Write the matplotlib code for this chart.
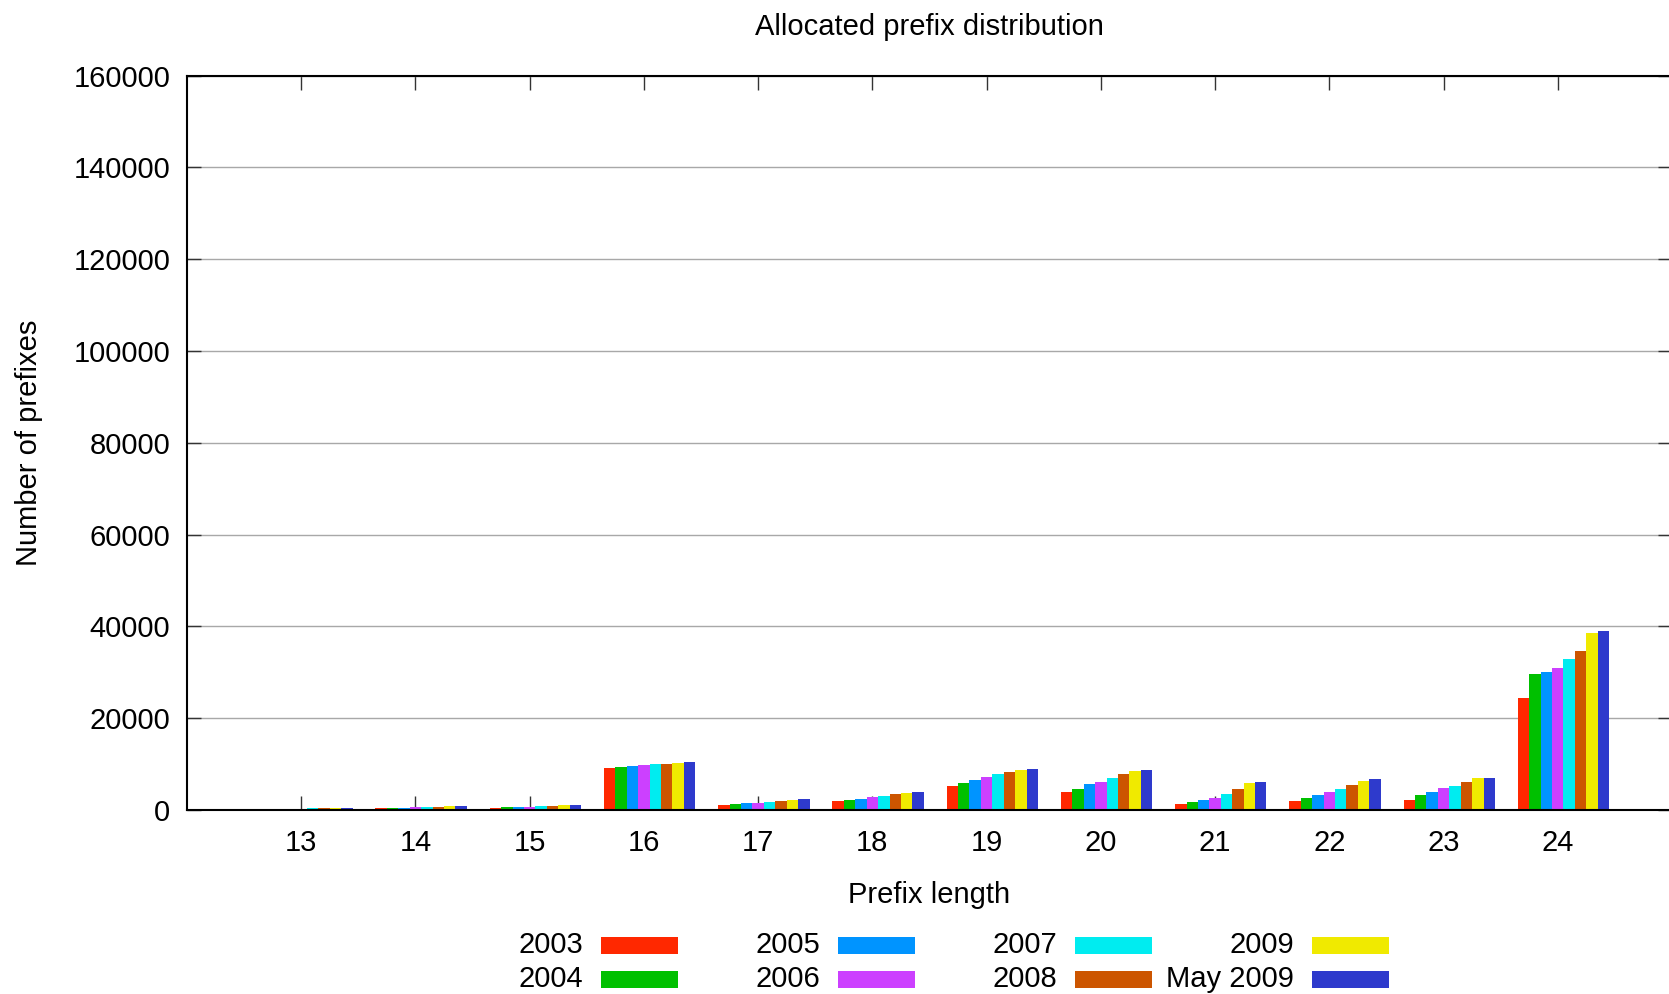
import numpy as np
import matplotlib
matplotlib.use("Agg")
import matplotlib.pyplot as plt
from matplotlib.patches import Rectangle

plt.rcParams['font.family'] = ['Liberation Sans', 'DejaVu Sans']

prefix_len = [13, 14, 15, 16, 17, 18, 19, 20, 21, 22, 23, 24]
years = ['2003', '2004', '2005', '2006', '2007', '2008', '2009', 'May 2009']
colors = ['#ff2800', '#00c000', '#0094ff', '#cc40ff', '#00ecf0', '#cc5500', '#f0ea00', '#2e3acc']

# number of prefixes per prefix length, one list per snapshot
p2003 = [150, 400, 400, 9160, 1090, 1960, 5230, 3930, 1310, 1960, 2180, 24400]
p2004 = [150, 400, 650, 9380, 1310, 2180, 5890, 4580, 1750, 2620, 3270, 29700]
p2005 = [200, 400, 650, 9600, 1530, 2400, 6540, 5670, 2180, 3270, 3930, 30100]
p2006 = [250, 650, 650, 9810, 1530, 2840, 7200, 6110, 2620, 3930, 4800, 31000]
p2007 = [440, 650, 870, 10030, 1750, 3050, 7850, 6980, 3490, 4580, 5230, 32900]
p2008 = [440, 650, 870, 10030, 1960, 3490, 8290, 7850, 4580, 5450, 6110, 34700]
p2009 = [440, 870, 1090, 10250, 2180, 3710, 8720, 8510, 5890, 6330, 6980, 38500]
pmay09 = [440, 870, 1090, 10470, 2400, 3930, 8940, 8720, 6110, 6760, 6980, 39000]
series = [p2003, p2004, p2005, p2006, p2007, p2008, p2009, pmay09]

W, H = 1669, 994
fs = 21
fig = plt.figure(figsize=(W / 100, H / 100), dpi=100)
ax = fig.add_axes([187 / W, 1 - 810 / H, (1672 - 187) / W, (810 - 75.6) / H])

x = np.array(prefix_len)
bw = 0.1
for j, (vals, c) in enumerate(zip(series, colors)):
    ax.bar(x + (j - 3) * bw, vals, width=bw, color=c, linewidth=0, zorder=2)

ax.set_xlim(12, 25)
ax.set_ylim(0, 160000)
ax.set_xticks(prefix_len)
ax.set_yticks(np.arange(0, 160001, 20000))
ax.yaxis.grid(True, color='#a8a8a8', linewidth=1.0, zorder=0)
ax.set_axisbelow(True)
ax.tick_params(direction='in', length=10, width=1.0, labelsize=fs,
               top=True, right=True, color='#333333')
ax.tick_params(axis='x', pad=14)
ax.tick_params(axis='y', pad=12)
for s in ax.spines.values():
    s.set_linewidth(1.5)
    s.set_zorder(3)

ax.set_title('Allocated prefix distribution', fontsize=fs, pad=29)
ax.set_xlabel('Prefix length', fontsize=fs, labelpad=17)
ax.set_ylabel('Number of prefixes', fontsize=fs, labelpad=22)

# key: two rows, four columns, label right-aligned left of its swatch
for i, (lab, c) in enumerate(zip(years, colors)):
    col, row = i // 2, i % 2
    yc = 945 + row * 34
    xs = 601 + col * 237
    fig.text((xs - 18) / W, 1 - yc / H, lab, ha='right', va='center', fontsize=fs)
    fig.patches.append(Rectangle((xs / W, 1 - (yc + 8.5) / H), 77 / W, 17 / H,
                                 transform=fig.transFigure, color=c, linewidth=0))

fig.savefig('out.png', dpi=100)
